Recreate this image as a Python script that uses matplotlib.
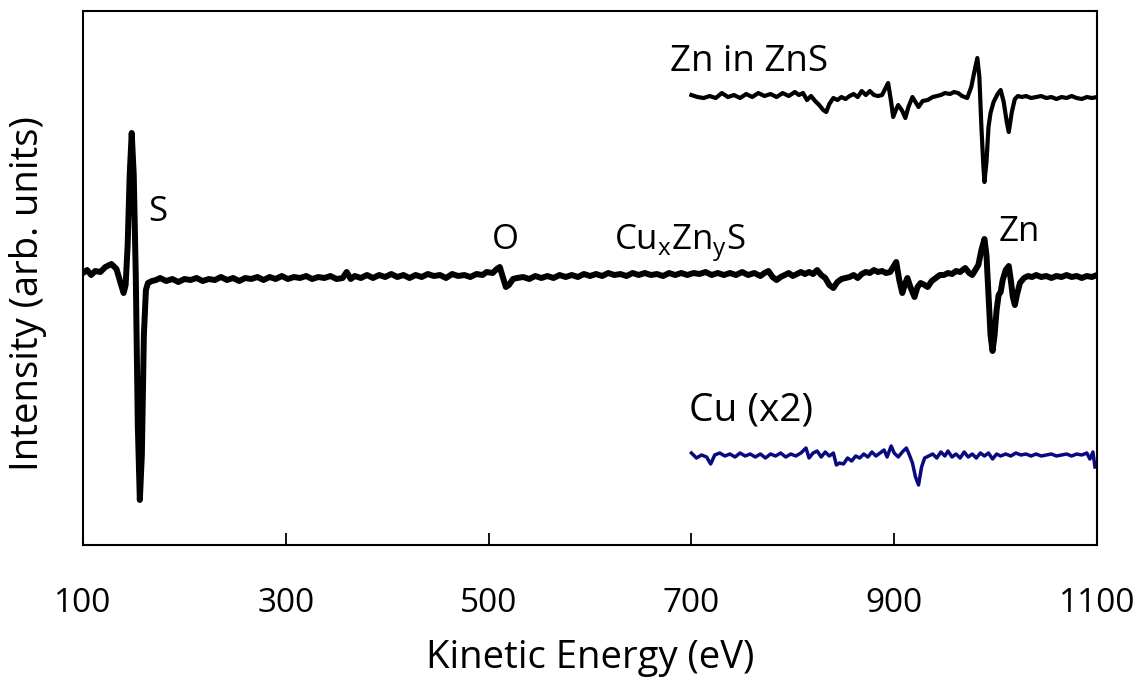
import numpy as np
import matplotlib
matplotlib.use("Agg")
from matplotlib import pyplot as plt

plt.rcParams['font.family'] = ['Open Sans', 'DejaVu Sans']
plt.rcParams['mathtext.fontset'] = 'custom'
plt.rcParams['mathtext.rm'] = 'Open Sans'

# CuxZnyS survey spectrum (kinetic energy in eV, derivative intensity in arb. units)
main_energy = [
    100, 104, 108, 112, 117, 122, 128, 133, 137, 140, 142, 144, 146, 148, 150, 152, 154, 156, 158, 160,
    162, 164, 168, 172, 176, 182, 188, 194, 200, 206, 212, 218, 224, 230, 236, 242, 248, 254, 260, 266,
    272, 278, 284, 290, 296, 302, 308, 314, 320, 326, 332, 338, 344, 350, 356, 360, 364, 368, 374, 380,
    386, 392, 398, 404, 410, 416, 422, 428, 434, 440, 446, 452, 458, 464, 470, 476, 482, 488, 494, 498,
    504, 508, 511, 514, 517, 520, 524, 528, 534, 540, 546, 552, 558, 564, 570, 576, 582, 588, 594, 600,
    606, 612, 618, 624, 630, 636, 642, 648, 654, 660, 666, 672, 678, 684, 690, 696, 702, 708, 714, 720,
    726, 732, 738, 744, 750, 756, 762, 768, 772, 776, 780, 784, 788, 792, 796, 800, 804, 808, 812, 816,
    820, 824, 828, 832, 836, 840, 844, 848, 852, 856, 860, 864, 868, 872, 876, 880, 884, 888, 892, 896,
    899, 902, 905, 908, 911, 913, 916, 920, 923, 926, 930, 933, 937, 941, 945, 949, 953, 957, 961, 965,
    970, 974, 977, 980, 983, 986, 989, 991, 993, 995, 997, 999, 1001, 1003, 1005, 1007, 1010, 1013, 1015, 1017,
    1019, 1021, 1024, 1028, 1032, 1036, 1040, 1045, 1050, 1055, 1060, 1065, 1070, 1075, 1080, 1085, 1090, 1095, 1100,
]
main_signal = [
    2, 5, 0, 4, 3, 8, 11, 6, -8, -18, -10, 30, 100, 142, 100, 0, -150, -225, -180, -60,
    -15, -8, -6, -5, -3, -6, -4, -7, -4, -5, -3, -6, -4, -5, -2, -5, -3, -6, -3, -4,
    -2, -5, -2, -4, -1, -4, -2, -3, -1, -4, -2, -3, -1, -4, -3, 3, -4, -1, -3, 0,
    -3, 0, -2, 1, -2, 0, -3, 0, -2, 1, -1, 0, -3, 1, -1, 0, -2, 1, 0, 3,
    2, 6, 8, -2, -12, -10, -4, -3, -2, -4, -1, -3, -1, -3, 0, -2, 0, -2, 1, -1,
    1, -1, 2, 0, 1, -1, 2, 0, 2, 0, 1, -1, 2, 0, 2, 0, 2, 1, 3, 0,
    2, 0, 2, 0, 3, 0, 2, -1, 2, 4, -2, -5, -2, 0, 2, -1, 1, 3, 1, 3,
    1, 5, 0, -3, -10, -13, -7, -4, -3, -2, 0, -3, 1, 3, 2, 5, 3, 4, 2, 3,
    8, 13, -5, -18, -8, -3, -12, -22, -12, -8, -10, -12, -6, -3, 0, 0, 2, 1, 4, 3,
    7, 2, 0, 5, 10, 25, 36, 20, -20, -60, -76, -60, -35, -20, -17, -5, 5, 9, -5, -22,
    -30, -20, -8, -3, -1, -2, 0, -2, -1, -3, -1, -2, 0, -2, -1, -3, -1, -2, 0,
]

# Zn in ZnS reference spectrum
zns_energy = [
    700, 706, 712, 718, 724, 730, 736, 742, 748, 754, 760, 766, 772, 778, 784, 790, 796, 802, 806, 810,
    814, 818, 822, 826, 830, 833, 836, 840, 844, 848, 852, 856, 860, 864, 868, 872, 876, 880, 884, 888,
    891, 894, 897, 899, 902, 904, 908, 911, 914, 918, 921, 924, 928, 933, 938, 942, 946, 950, 955, 959,
    963, 967, 972, 976, 979, 982, 984, 986, 988, 989, 991, 993, 995, 998, 1002, 1005, 1008, 1011, 1013, 1016,
    1019, 1022, 1026, 1030, 1035, 1040, 1045, 1050, 1055, 1060, 1065, 1070, 1075, 1080, 1085, 1090, 1095, 1100,
]
zns_signal = [
    2, 0, -1, 1, -1, 4, 0, 2, -1, 3, 0, 4, 1, 3, 0, 4, 1, 5, 2, 4,
    -3, 1, -4, -8, -13, -15, -7, -1, -3, 0, -2, 1, 3, 0, 6, 2, 6, 2, 1, 2,
    8, 14, -5, -20, -12, -8, -14, -21, -10, 0, -5, -10, -4, -3, 0, 1, 2, 4, 3, 5,
    4, 1, -1, 10, 25, 39, 20, -30, -70, -85, -65, -30, -16, -5, 3, 7, -5, -25, -35, -15,
    -2, 1, 0, 1, -1, 0, 1, -1, 0, -2, 0, -1, 1, -1, -2, 0, -1, 0,
]

# Cu reference spectrum (scaled x2)
cu_energy = [
    700, 705, 710, 715, 719, 723, 728, 733, 738, 743, 748, 753, 758, 763, 768, 773, 778, 783, 788, 793,
    798, 803, 808, 813, 816, 820, 824, 828, 832, 836, 840, 843, 846, 850, 854, 858, 862, 866, 870, 874,
    878, 882, 886, 890, 893, 897, 900, 904, 908, 912, 915, 918, 921, 924, 927, 930, 934, 938, 942, 946,
    950, 953, 957, 961, 965, 969, 973, 977, 981, 985, 989, 993, 997, 1001, 1005, 1010, 1015, 1020, 1025, 1030,
    1035, 1040, 1045, 1050, 1055, 1060, 1065, 1070, 1075, 1080, 1085, 1090, 1093, 1096, 1098,
]
cu_signal = [
    2, -3, 0, -2, -9, 0, 2, -1, 1, -2, 2, -1, 1, -2, 1, -3, 1, -1, 2, -2,
    1, -1, 2, 7, -3, 2, 4, -2, 3, -1, 2, -10, -8, -9, -3, -6, -1, -3, 1, -2,
    3, -1, 2, 5, -2, 9, 2, -2, 3, 7, 0, -8, -22, -30, -12, -3, -1, 1, -3, 3,
    -1, 4, -2, 1, -3, 3, -2, 1, -3, 2, -1, 2, -4, 1, -1, 1, -1, 2, 0, 1,
    -1, 1, -1, 0, 1, -1, 0, 1, -1, 1, 0, 2, -4, 3, -12,
]

zns_offset = 178
cu_offset = -180

fig, ax = plt.subplots(figsize=(11.47, 6.89), dpi=100)
fig.subplots_adjust(left=0.0724, right=0.9564, bottom=0.209, top=0.984)

ax.plot(main_energy, main_signal, color="black", lw=4.3, solid_joinstyle="round", solid_capstyle="round")
ax.plot(zns_energy, np.array(zns_signal) + zns_offset, color="black", lw=3.0, solid_joinstyle="round")
ax.plot(cu_energy, np.array(cu_signal) + cu_offset, color="#0a0a80", lw=2.5, solid_joinstyle="round")

ax.text(174, 63, "S", fontsize=25, ha="center", va="center")
ax.text(517, 35, "O", fontsize=25, ha="center", va="center")
ax.text(688, 32, r"Cu$_\mathregular{x}$Zn$_\mathregular{y}$S", fontsize=25, ha="center", va="center")
ax.text(1023, 43, "Zn", fontsize=25, ha="center", va="center")
ax.text(757, 213, "Zn in ZnS", fontsize=26.5, ha="center", va="center")
ax.text(759, -135, "Cu (x2)", fontsize=28, ha="center", va="center")

ax.set_xlim(100, 1100)
ax.set_ylim(-270, 264)
ax.set_xticks(range(100, 1101, 200))
ax.set_yticks([])
ax.tick_params(axis="x", direction="in", length=9, width=1.3, labelsize=24, pad=30)
for sp in ax.spines.values():
    sp.set_linewidth(1.5)

ax.set_xlabel("Kinetic Energy (eV)", fontsize=27.5, labelpad=14)
ax.set_ylabel("Intensity (arb. units)", fontsize=27.5)
ax.yaxis.set_label_coords(-0.036, 0.471)

fig.savefig("out.png", dpi=100)
